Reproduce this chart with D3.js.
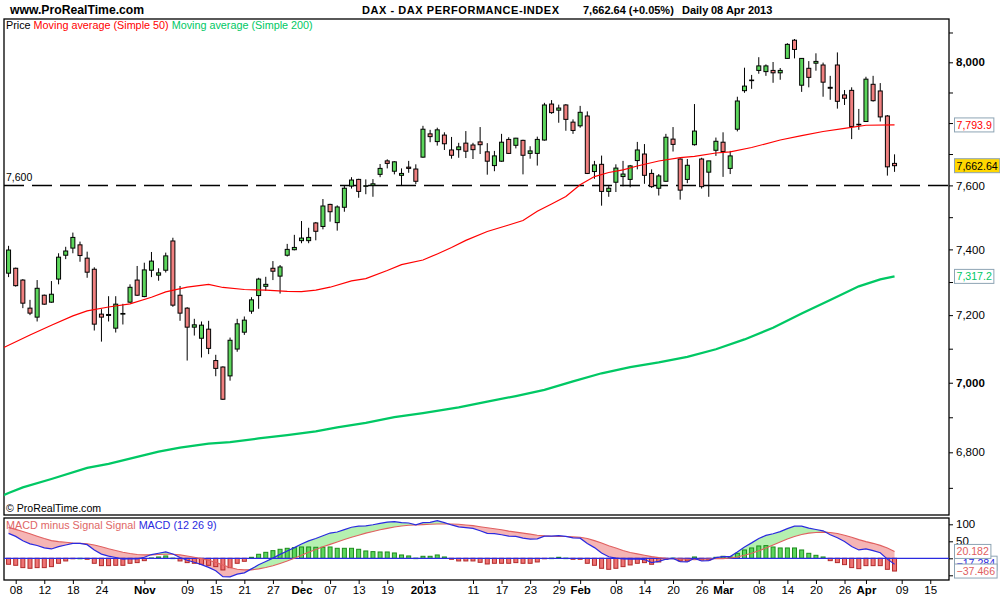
<!DOCTYPE html>
<html><head><meta charset="utf-8">
<script src="https://cdn.jsdelivr.net/npm/d3@7"></script>
<style>
body{margin:0;background:#fff}
svg{display:block}
text{font-family:"Liberation Sans",Arial,Helvetica,sans-serif}
</style>
</head><body>
<svg id="chart" width="1000" height="600"></svg>
<script>
// ---------------- DATA ----------------
const preDates = ["2012-10-04"];
const dates = [
"2012-10-05","2012-10-08","2012-10-09","2012-10-10","2012-10-11","2012-10-12","2012-10-15","2012-10-16","2012-10-17","2012-10-18","2012-10-19",
"2012-10-22","2012-10-23","2012-10-24","2012-10-25","2012-10-26","2012-10-29","2012-10-30","2012-10-31",
"2012-11-01","2012-11-02","2012-11-05","2012-11-06","2012-11-07","2012-11-08","2012-11-09","2012-11-12","2012-11-13","2012-11-14","2012-11-15","2012-11-16",
"2012-11-19","2012-11-20","2012-11-21","2012-11-22","2012-11-23","2012-11-26","2012-11-27","2012-11-28","2012-11-29","2012-11-30",
"2012-12-03","2012-12-04","2012-12-05","2012-12-06","2012-12-07","2012-12-10","2012-12-11","2012-12-12","2012-12-13","2012-12-14",
"2012-12-17","2012-12-18","2012-12-19","2012-12-20","2012-12-21","2012-12-27","2012-12-28",
"2013-01-02","2013-01-03","2013-01-04","2013-01-07","2013-01-08","2013-01-09","2013-01-10","2013-01-11","2013-01-14","2013-01-15","2013-01-16",
"2013-01-17","2013-01-18","2013-01-21","2013-01-22","2013-01-23","2013-01-24","2013-01-25","2013-01-28","2013-01-29","2013-01-30","2013-01-31",
"2013-02-01","2013-02-04","2013-02-05","2013-02-06","2013-02-07","2013-02-08","2013-02-11","2013-02-12","2013-02-13","2013-02-14","2013-02-15",
"2013-02-18","2013-02-19","2013-02-20","2013-02-21","2013-02-22","2013-02-25","2013-02-26","2013-02-27","2013-02-28",
"2013-03-01","2013-03-04","2013-03-05","2013-03-06","2013-03-07","2013-03-08","2013-03-11","2013-03-12","2013-03-13","2013-03-14","2013-03-15",
"2013-03-18","2013-03-19","2013-03-20","2013-03-21","2013-03-22","2013-03-25","2013-03-26","2013-03-27","2013-03-28",
"2013-04-02","2013-04-03","2013-04-04","2013-04-05","2013-04-08"];
const futureDates = ["2013-04-09","2013-04-10","2013-04-11","2013-04-12","2013-04-15","2013-04-16","2013-04-17"];

const open = [
7327,7342,7306,7221,7194,7260,7239,7309,7382,7404,7414,
7373,7339,7203,7199,7161,7203,7239,7306,
7256,7336,7321,7336,7426,7260,7221,7164,7131,7158,7065,7046,
7020,7099,7149,7212,7259,7287,7342,7318,7382,7399,
7427,7427,7482,7471,7540,7483,7531,7598,7619,7597,
7600,7635,7678,7645,7632,7658,7652,
7690,7765,7740,7761,7713,7714,7735,7729,7739,7707,7663,
7677,7747,7728,7744,7702,7702,7745,7862,7842,7859,7803,
7791,7823,7644,7667,7581,7610,7628,7619,7679,7700,7638,
7591,7613,7748,7684,7619,7730,7684,7642,7712,
7738,7654,7780,7906,7940,7973,7969,7973,7965,8013,8074,
7924,7980,7997,7991,7917,7991,7892,7907,7796,
7805,7927,7905,7823,7670];
const high = [
7411,7344,7309,7246,7306,7262,7303,7388,7408,7452,7424,
7393,7345,7218,7257,7257,7234,7293,7349,
7359,7392,7342,7390,7436,7288,7224,7189,7181,7183,7082,7048,
7133,7189,7196,7254,7313,7316,7364,7352,7417,7445,
7488,7467,7485,7557,7542,7537,7598,7626,7621,7619,
7620,7668,7683,7677,7654,7678,7667,
7791,7778,7785,7770,7755,7736,7774,7736,7787,7735,7710,
7765,7754,7752,7746,7725,7756,7866,7875,7860,7862,7812,
7856,7838,7678,7695,7599,7667,7678,7665,7739,7732,7651,
7636,7765,7787,7686,7684,7862,7688,7678,7753,
7770,7710,7886,7982,7958,8017,7993,8001,7981,8064,8078,
8014,8004,8030,7999,7955,8033,7908,7917,7846,
7952,7955,7931,7826,7699];
const low = [
7315,7286,7221,7200,7181,7231,7237,7293,7370,7388,7362,
7313,7154,7121,7181,7148,7172,7237,7258,
7254,7315,7304,7329,7225,7183,7065,7139,7074,7084,7019,6950,
7006,7091,7141,7204,7219,7273,7306,7265,7378,7397,
7419,7419,7428,7462,7486,7458,7517,7590,7561,7572,
7564,7626,7654,7635,7598,7640,7604,
7688,7738,7727,7713,7685,7688,7687,7684,7700,7634,7645,
7675,7700,7718,7635,7685,7663,7743,7830,7801,7775,7765,
7785,7636,7621,7536,7564,7579,7597,7594,7651,7605,7592,
7568,7612,7708,7555,7607,7727,7590,7564,7694,
7627,7636,7773,7899,7912,7962,7955,7932,7942,8012,8013,
7902,7917,7972,7886,7876,7847,7859,7748,7778,
7804,7870,7805,7631,7643];
const close = [
7398,7289,7236,7206,7281,7233,7263,7376,7395,7437,7381,
7330,7173,7194,7202,7233,7205,7284,7260,
7337,7364,7328,7380,7230,7206,7164,7171,7170,7101,7042,6952,
7125,7174,7185,7246,7309,7293,7333,7346,7400,7406,
7435,7437,7456,7535,7517,7532,7591,7617,7581,7599,
7605,7654,7670,7675,7638,7654,7613,
7780,7756,7778,7733,7696,7723,7709,7714,7730,7677,7694,
7738,7702,7751,7696,7710,7747,7859,7834,7849,7812,7776,
7835,7638,7665,7581,7591,7655,7636,7662,7713,7632,7596,
7630,7754,7731,7585,7664,7774,7596,7678,7741,
7708,7694,7872,7921,7941,7988,7988,7965,7973,8060,8043,
8013,7950,8003,7934,7914,7871,7881,7789,7795,
7944,7873,7820,7659,7662.64];

// Moving averages (read at sampled sessions)
const ma50Dates = ["2012-10-04","2012-10-05","2012-10-10","2012-10-15","2012-10-18","2012-10-22","2012-10-25","2012-10-30","2012-11-02","2012-11-06",
"2012-11-09","2012-11-14","2012-11-16","2012-11-21","2012-11-26","2012-11-29","2012-12-03","2012-12-05","2012-12-07","2012-12-12",
"2012-12-14","2012-12-19","2012-12-21","2013-01-02","2013-01-04","2013-01-08","2013-01-10","2013-01-15","2013-01-18","2013-01-22",
"2013-01-24","2013-01-28","2013-01-30","2013-02-01","2013-02-05","2013-02-07","2013-02-11","2013-02-13","2013-02-18","2013-02-21",
"2013-02-25","2013-02-28","2013-03-04","2013-03-07","2013-03-13","2013-03-18","2013-03-21","2013-03-26","2013-04-02","2013-04-08"];
const ma50 = [7100.4,7110.2,7140.7,7169.9,7197.8,7212.8,7224.5,7234.1,7253.8,7270,
7284.7,7292.7,7283.5,7277.4,7275.3,7271.4,7270.8,7275.6,7284.3,7303.3,
7310.3,7335.3,7353.3,7367.4,7386,7405.6,7427.9,7455.4,7475.6,7489.6,
7518.7,7541.3,7565,7602.2,7628,7641,7649.5,7661.7,7677.7,7688.3,
7692.2,7703.2,7707,7721,7745.1,7759,7772.7,7782.8,7792.8,7793.9];

const ma200Dates = ["2012-10-04","2012-10-05","2012-10-09","2012-10-15","2012-10-22","2012-10-25","2012-10-31","2012-11-05","2012-11-08","2012-11-14",
"2012-11-19","2012-11-23","2012-11-29","2012-12-05","2012-12-10","2012-12-14","2012-12-20","2013-01-02","2013-01-09","2013-01-15",
"2013-01-21","2013-01-25","2013-01-31","2013-02-06","2013-02-12","2013-02-18","2013-02-22","2013-02-28","2013-03-06","2013-03-12",
"2013-03-18","2013-03-22","2013-03-28","2013-04-04","2013-04-08"];
const ma200 = [6677,6685.7,6701.1,6724.8,6756,6767.6,6786.8,6802,6813,6824.8,
6828.8,6839.3,6849,6859.3,6871.3,6883.7,6900.1,6912.2,6928.4,6945.1,
6961.4,6979.3,7004.2,7027.7,7045.6,7059.5,7075.9,7098.4,7127.4,7162.4,
7205,7245.6,7287.1,7308,7317.2];

// MACD (12 26 9), one value per session
const macdLine = [73.4,64.4,51.6,42.6,37.6,30.6,27.5,34.3,39.2,44,44,
40.1,24.3,12.4,6.4,2.4,-2.6,-0.7,-1.7,
3.1,11,14.9,18.9,12.5,2.2,-5.7,-11.7,-18.6,-26.6,-36.5,-54.3,
-54.4,-46.7,-42.8,-31.1,-19.2,-9.4,0.5,11.5,21.4,31.4,
42.3,51.3,58.4,66.4,74.3,77.4,84.4,91.4,94.5,95.6,
98.6,102.6,106.6,107.7,104.8,103.9,98.5,
104.9,105.9,110.8,104.9,98.1,92.2,90.2,88.2,81.2,73.3,72.3,
69.3,65.3,64.3,59.3,56.3,57.2,65,65.5,66.9,64.5,60.1,
59.1,43.3,31.4,15.6,4.6,0.6,-1.5,-2.6,-1.7,-3.7,-12.6,
-8.8,-2.9,-0.5,-9.8,-10.8,-0.1,-7.9,-6.9,1.9,
4.9,5,18.7,33.5,45.4,58.3,67.3,72.3,78.4,87.4,94.4,
94.5,88.7,84.8,80.9,69.1,60.3,49.4,34.6,24.6,
27.4,22.4,16.4,-2.4,-17.284];
const signalLine = [91,85,79,72,65,58,52,49,47,45,44,
43,39,34,28,23,18,14,11,
10,10,11,12,12,10,7,3,-1,-6,-12,-20,
-27,-32,-34,-34,-31,-27,-22,-15,-8,0,
9,18,26,34,41,48,55,62,68,74,
79,84,88,92,95,97,98,
99,100,101,101,101,100,98,96,93,90,87,
84,80,77,74,71,68,66,65,64,64,63,
62,58,52,45,37,30,23,17,13,9,5,
2,0,-1,-2,-3,-4,-3,-2,-1,
-1,1,4,9,15,22,30,39,48,57,64,
70,74,76,77,76,73,68,62,55,
49,44,38,30,20.182];
const macdHist = [-17.6,-20.6,-27.4,-29.4,-27.4,-27.4,-24.5,-14.7,-7.8,-1,0,
-2.9,-14.7,-21.6,-21.6,-20.6,-20.6,-14.7,-12.7,
-6.9,1,3.9,6.9,0.5,-7.8,-12.7,-14.7,-17.6,-20.6,-24.5,-34.3,
-27.4,-14.7,-8.8,2.9,11.8,17.6,22.5,26.5,29.4,31.4,
33.3,33.3,32.4,32.4,33.3,29.4,29.4,29.4,26.5,21.6,
19.6,18.6,18.6,15.7,9.8,6.9,0.5,
5.9,5.9,9.8,3.9,-2.9,-7.8,-7.8,-7.8,-11.8,-16.7,-14.7,
-14.7,-14.7,-12.7,-14.7,-14.7,-10.8,-1,0.5,2.9,0.5,-2.9,
-2.9,-14.7,-20.6,-29.4,-32.4,-29.4,-24.5,-19.6,-14.7,-12.7,-17.6,
-10.8,-2.9,0.5,-7.8,-7.8,3.9,-4.9,-4.9,2.9,
5.9,4,14.7,24.5,30.4,36.3,37.3,33.3,30.4,30.4,30.4,
24.5,14.7,8.8,3.9,-6.9,-12.7,-18.6,-27.4,-30.4,
-21.6,-21.6,-21.6,-32.4,-37.466];

// Axis ticks / labels
const priceTicks = [6700,6800,6900,7000,7100,7200,7300,7400,7500,7600,7700,7800,7900,8000,8100];
const priceLabeled = [6800,7000,7200,7400,7600,8000];
const priceBold = [7000,8000];
const macdTicks = [-50,0,50,100];
const macdLabeled = [50,100];
const xTickDates = ["2012-10-08","2012-10-12","2012-10-18","2012-10-24","2012-11-01","2012-11-09","2012-11-15","2012-11-21","2012-11-27",
"2012-12-03","2012-12-07","2012-12-13","2012-12-19","2013-01-02","2013-01-11","2013-01-17","2013-01-23","2013-01-29","2013-02-01",
"2013-02-08","2013-02-14","2013-02-20","2013-02-26","2013-03-01","2013-03-08","2013-03-14","2013-03-20","2013-03-26","2013-04-02",
"2013-04-09","2013-04-15"];
const xTickLabels = ["08","12","18","24","Nov","09","15","21","27","Dec","07","13","19","2013","11","17","23","29","Feb",
"08","14","20","26","Mar","08","14","20","26","Apr","09","15"];
const xTickBold = ["Nov","Dec","2013","Feb","Mar","Apr"];
const supportLevel = 7600;

// ---------------- LAYOUT ----------------
const svg = d3.select("#chart");
const L = 4, R = 949;
const pTop = 19, pBot = 515;
const mTop = 518, mBot = 580;
const allDates = preDates.concat(dates, futureDates);
const x = d3.scalePoint().domain(allDates).range([1.41, 944.55]);
const y = d3.scaleLog().domain([6800, 8000]).range([452.3, 62.3]);
const ym = d3.scaleLinear().domain([-50, 100]).range([575.3, 524.3]);

const GREEN = "#5cd65c", RED = "#f08080";

const defs = svg.append("defs");
defs.append("clipPath").attr("id","cp").append("rect").attr("x",L).attr("y",pTop).attr("width",R-L).attr("height",pBot-pTop);
defs.append("clipPath").attr("id","cm").append("rect").attr("x",L).attr("y",mTop).attr("width",R-L).attr("height",mBot-mTop);

// Header
svg.append("text").attr("x",10).attr("y",14).attr("font-size",12.2).attr("font-weight","bold").text("www.ProRealTime.com");
const titleParts = [
  {t:"DAX - DAX PERFORMANCE-INDEX", x:362},
  {t:"7,662.64 (+0.05%)", x:583},
  {t:"Daily", x:682},
  {t:"08 Apr 2013", x:711}];
svg.selectAll("text.tt").data(titleParts).enter().append("text")
  .attr("x",d=>d.x).attr("y",14).attr("font-size",11).attr("font-weight","bold")
  .attr("textLength",(d,i)=>i===0?197:null).attr("lengthAdjust","spacing").text(d=>d.t);

// Panel frames
svg.append("rect").attr("x",L).attr("y",pTop).attr("width",R-L).attr("height",pBot-pTop)
  .attr("fill","#fff").attr("stroke","#000").attr("stroke-width",1.3);
svg.append("rect").attr("x",L).attr("y",mTop).attr("width",R-L).attr("height",mBot-mTop)
  .attr("fill","#fff").attr("stroke","#000").attr("stroke-width",1.3);

const gp = svg.append("g").attr("clip-path","url(#cp)");

// support line
gp.append("line").attr("x1",L).attr("x2",R).attr("y1",y(supportLevel)).attr("y2",y(supportLevel))
  .attr("stroke","#000").attr("stroke-width",1.5).attr("stroke-dasharray","20,8");
svg.append("text").attr("x",6).attr("y",y(supportLevel)-4).attr("font-size",10.5).text(d3.format(",")(supportLevel));

// candles
const candles = dates.map((d,i)=>({d, o:open[i], h:high[i], l:low[i], c:close[i]}));
const cg = gp.append("g");
cg.selectAll("line.w").data(candles).enter().append("line")
  .attr("x1",d=>x(d.d)).attr("x2",d=>x(d.d)).attr("y1",d=>y(d.h)).attr("y2",d=>y(d.l))
  .attr("stroke","#000").attr("stroke-width",1);
cg.selectAll("rect.b").data(candles).enter().append("rect")
  .attr("x",d=>x(d.d)-2).attr("width",4)
  .attr("y",d=>y(Math.max(d.o,d.c)))
  .attr("height",d=>Math.max(0.6, y(Math.min(d.o,d.c))-y(Math.max(d.o,d.c))))
  .attr("fill",d=>d.c>=d.o?GREEN:RED).attr("stroke","#000").attr("stroke-width",1);

// moving averages
const line = d3.line().x(d=>x(d[0])).y(d=>y(d[1]));
gp.append("path").datum(ma200Dates.map((d,i)=>[d,ma200[i]])).attr("d",line)
  .attr("fill","none").attr("stroke","#00c864").attr("stroke-width",2.3);
gp.append("path").datum(ma50Dates.map((d,i)=>[d,ma50[i]])).attr("d",line)
  .attr("fill","none").attr("stroke","#ff0000").attr("stroke-width",1.2);

// legend
const lg = svg.append("text").attr("x",6).attr("y",29).attr("font-size",10.8).attr("xml:space","preserve");
lg.append("tspan").attr("fill","#000").text("Price ");
lg.append("tspan").attr("fill","#ff0000").text("Moving average (Simple 50) ");
lg.append("tspan").attr("fill","#00c864").text("Moving average (Simple 200)");
svg.append("text").attr("x",6).attr("y",512).attr("font-size",10.6).text("\u00A9 ProRealTime.com");

// Price axis
const ay = svg.append("g").attr("transform",`translate(${R},0)`)
  .call(d3.axisRight(y).tickValues(priceTicks).tickSize(4).tickPadding(3)
    .tickFormat(d=>priceLabeled.includes(d)?d3.format(",")(d):""));
ay.select(".domain").remove();
ay.selectAll("text").attr("font-size",11.5).attr("font-family","Liberation Sans, Arial, sans-serif")
  .attr("font-weight",d=>priceBold.includes(d)?"bold":"normal").attr("fill","#000");
ay.selectAll("line").attr("stroke","#000");

function valBox(yy, txt, color, bg){
  const g = svg.append("g");
  const t = g.append("text").attr("x",956.5).attr("y",yy+4).attr("font-size",10.6).attr("fill",color).text(txt);
  const w = t.node().getComputedTextLength();
  g.insert("rect","text").attr("x",954.5).attr("y",yy-7).attr("width",w+4).attr("height",14)
    .attr("fill",bg).attr("stroke","#8ea4b4").attr("stroke-width",1);
}
valBox(y(ma50[ma50.length-1]), d3.format(",.1f")(ma50[ma50.length-1]), "#ff0000", "#fff");
valBox(y(close[close.length-1]), d3.format(",.2f")(close[close.length-1]), "#000", "#ffd700");
valBox(y(ma200[ma200.length-1]), d3.format(",.1f")(ma200[ma200.length-1]), "#00c864", "#fff");

// ---------------- MACD panel ----------------
const gm = svg.append("g").attr("clip-path","url(#cm)");
const mrows = dates.map((d,i)=>({d, m:macdLine[i], s:signalLine[i], h:macdHist[i]}));
const areaPink = d3.area().x(d=>x(d.d)).y0(d=>ym(d.m)).y1(d=>ym(Math.max(d.m,d.s)));
const areaGreen = d3.area().x(d=>x(d.d)).y0(d=>ym(d.s)).y1(d=>ym(Math.max(d.m,d.s)));
gm.append("path").datum(mrows).attr("d",areaPink).attr("fill","#f5b5b5");
gm.append("path").datum(mrows).attr("d",areaGreen).attr("fill","#b5f0b0");
gm.selectAll("rect.h").data(mrows).enter().append("rect")
  .attr("x",d=>x(d.d)-2).attr("width",4)
  .attr("y",d=>ym(Math.max(0,d.h))).attr("height",d=>Math.max(0.5,Math.abs(ym(d.h)-ym(0))))
  .attr("fill",d=>d.h>=0?"#5cd65c":"#ee7474").attr("stroke",d=>d.h>=0?"#1c8c1c":"#b22a2a").attr("stroke-width",1);
gm.append("line").attr("x1",L).attr("x2",R).attr("y1",ym(0)).attr("y2",ym(0)).attr("stroke","#2a2ae0").attr("stroke-width",1.2);
gm.append("path").datum(mrows).attr("d",d3.line().x(d=>x(d.d)).y(d=>ym(d.s)))
  .attr("fill","none").attr("stroke","#e06060").attr("stroke-width",1.1);
gm.append("path").datum(mrows).attr("d",d3.line().x(d=>x(d.d)).y(d=>ym(d.m)))
  .attr("fill","none").attr("stroke","#2a2ae0").attr("stroke-width",1.2);

const ml = svg.append("text").attr("x",6).attr("y",529).attr("font-size",10.8).attr("xml:space","preserve");
ml.append("tspan").attr("fill","#e06666").text("MACD minus Signal Signal ");
ml.append("tspan").attr("fill","#2a2ae0").text("MACD (12 26 9)");

const am = svg.append("g").attr("transform",`translate(${R},0)`)
  .call(d3.axisRight(ym).tickValues(macdTicks).tickSize(4).tickPadding(3)
    .tickFormat(d=>macdLabeled.includes(d)?String(d):""));
am.select(".domain").remove();
am.selectAll("text").attr("font-size",11.5).attr("font-family","Liberation Sans, Arial, sans-serif").attr("fill","#000");

const lastI = dates.length-1;
valBox(ym(macdLine[lastI])-1, d3.format(".3f")(macdLine[lastI]), "#2a2ae0", "#fff");
valBox(ym(signalLine[lastI]), d3.format(".3f")(signalLine[lastI]), "#e06060", "#fff");
valBox(ym(macdHist[lastI]), d3.format(".3f")(macdHist[lastI]), "#e06060", "#fff");

// ---------------- X axis ----------------
const ax = svg.append("g").attr("transform",`translate(0,${mBot})`)
  .call(d3.axisBottom(x).tickValues(xTickDates).tickSize(4).tickPadding(2)
    .tickFormat(d=>xTickLabels[xTickDates.indexOf(d)]));
ax.select(".domain").remove();
ax.selectAll("text").attr("font-size",11.5).attr("font-family","Liberation Sans, Arial, sans-serif").attr("fill","#000")
  .attr("font-weight",d=>xTickBold.includes(xTickLabels[xTickDates.indexOf(d)])?"bold":"normal");
</script>
</body></html>
